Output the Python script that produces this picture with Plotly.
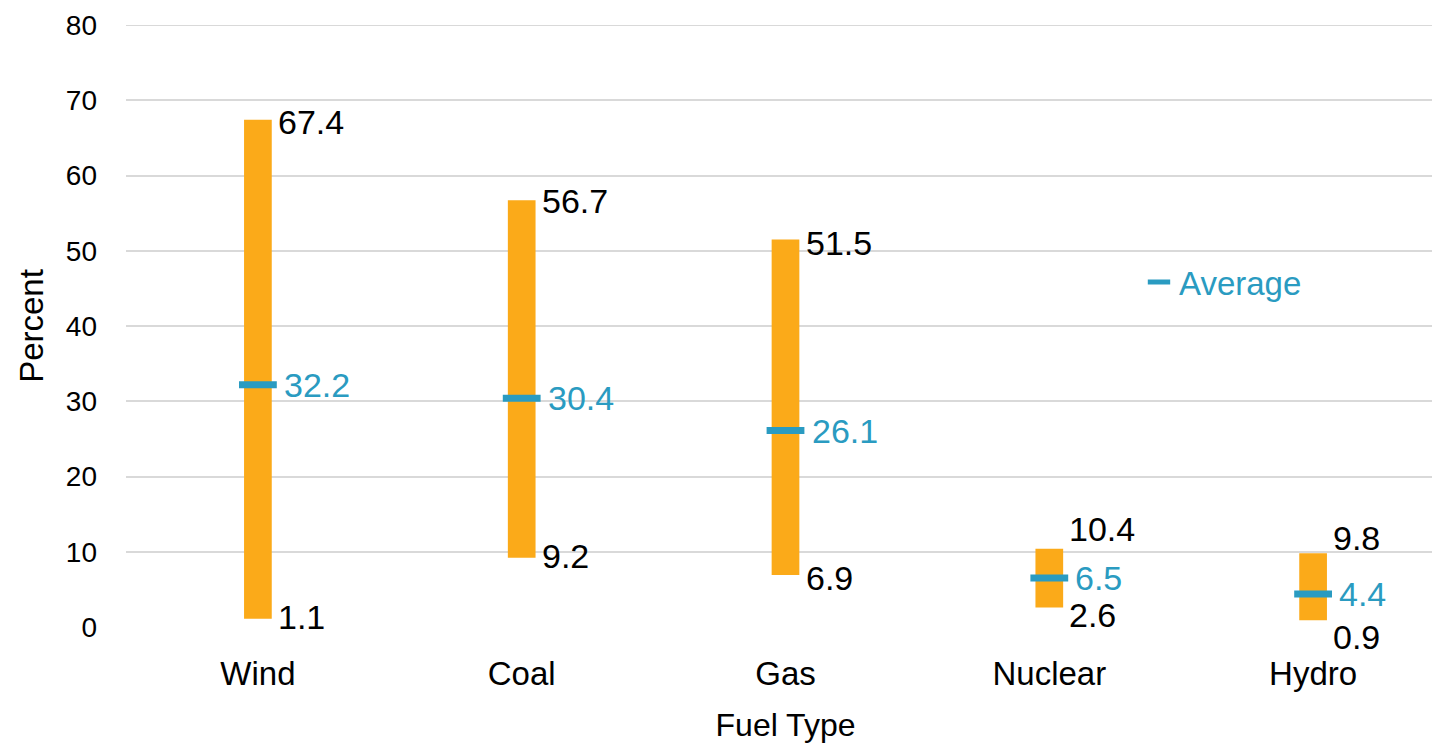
import plotly.graph_objects as go

categories = ["Wind", "Coal", "Gas", "Nuclear", "Hydro"]
min_vals = [1.1, 9.2, 6.9, 2.6, 0.9]
max_vals = [67.4, 56.7, 51.5, 10.4, 9.8]
avg_vals = [32.2, 30.4, 26.1, 6.5, 4.4]
y_ticks = [0, 10, 20, 30, 40, 50, 60, 70, 80]

ORANGE = "#FBAA19"
TEAL = "#2A9BC1"
FONT = "Liberation Sans, Arial, sans-serif"

# pixel offsets for labels (style only)
max_shift = [-2, -1, -4, 20, 15]
min_shift = [2, 2, -3, -8, -17]

fig = go.Figure()
fig.add_trace(go.Bar(
    x=categories,
    y=[mx - mn for mx, mn in zip(max_vals, min_vals)],
    base=min_vals,
    width=0.105,
    marker=dict(color=ORANGE, line=dict(width=0)),
    showlegend=False,
    hoverinfo="skip",
))
fig.add_trace(go.Scatter(
    x=categories,
    y=avg_vals,
    mode="markers",
    name="Average",
    marker=dict(symbol="line-ew", size=27, line=dict(width=7, color=TEAL), color=TEAL),
))

annotations = []
for i, c in enumerate(categories):
    annotations.append(dict(x=c, y=max_vals[i], text=f"{max_vals[i]:.1f}", xanchor="left",
                            yanchor="middle", xshift=18, yshift=max_shift[i], showarrow=False,
                            font=dict(size=34, color="#000000", family=FONT)))
    annotations.append(dict(x=c, y=min_vals[i], text=f"{min_vals[i]:.1f}", xanchor="left",
                            yanchor="middle", xshift=18, yshift=min_shift[i], showarrow=False,
                            font=dict(size=34, color="#000000", family=FONT)))
    annotations.append(dict(x=c, y=avg_vals[i], text=f"{avg_vals[i]:.1f}", xanchor="left",
                            yanchor="middle", xshift=24, yshift=0, showarrow=False,
                            font=dict(size=34, color=TEAL, family=FONT)))

# the reference plot area runs slightly past the right edge of the window
fig.update_layout(
    width=1445, height=751, autosize=False,
    margin=dict(l=126, r=0, t=25, b=124, autoexpand=False),
    paper_bgcolor="white", plot_bgcolor="white",
    font=dict(family=FONT, color="#000000"),
    annotations=annotations,
    showlegend=True,
    legend=dict(x=0.768, y=0.573, xanchor="left", yanchor="middle",
                font=dict(size=33, color=TEAL, family=FONT),
                bgcolor="rgba(0,0,0,0)", itemwidth=30),
    xaxis=dict(
        title=dict(text="Fuel Type", font=dict(size=32), standoff=22),
        tickfont=dict(size=33),
        showgrid=False, zeroline=False, showline=False,
        ticks="", ticklabelstandoff=24,
        range=[-0.5, 4.5], automargin=False,
    ),
    yaxis=dict(
        title=dict(text="Percent", font=dict(size=33), standoff=12),
        range=[0, 80], tickvals=y_ticks,
        tickfont=dict(size=28),
        showgrid=True, gridcolor="#D9D9D9", gridwidth=2,
        zeroline=False, showline=False,
        ticks="", ticklabelstandoff=28, automargin=False,
    ),
)
# top gridline at the axis maximum
fig.add_shape(type="line", xref="paper", yref="y", x0=0, x1=1, y0=y_ticks[-1], y1=y_ticks[-1],
              line=dict(color="#D9D9D9", width=2), layer="below")

fig.write_html("out.html", config={"displayModeBar": False},
               post_script="document.body.style.margin='0';document.body.style.overflow='hidden';")
